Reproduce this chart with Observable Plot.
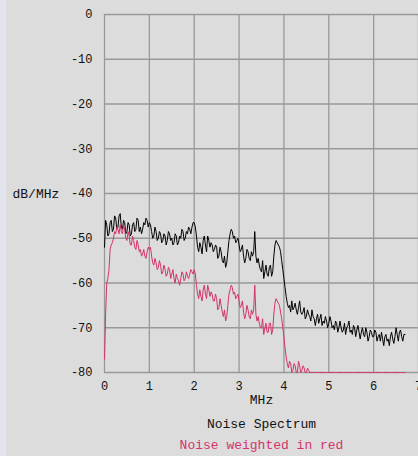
<!DOCTYPE html>
<html><head><meta charset="utf-8">
<script src="https://cdn.jsdelivr.net/npm/d3@7"></script>
<script src="https://cdn.jsdelivr.net/npm/@observablehq/plot@0.6"></script>
<style>
html,body{margin:0;padding:0;}
body{width:418px;height:456px;overflow:hidden;background:linear-gradient(to right,#e4e4ee 0,#e4e4ee 6px,#dcdcdc 6px);}
</style></head><body><div id="chart"></div>
<script>
const freqStart = 0;
const freqStep = 0.025; // MHz between samples
const xTicks = [0, 1, 2, 3, 4, 5, 6, 7];
const yTicks = [0, -10, -20, -30, -40, -50, -60, -70, -80];
const yLabel = "dB/MHz";
const xLabel = "MHz";
const title = "Noise Spectrum";
const caption = "Noise weighted in red";

// total noise (black), dB/MHz, 0.000 .. 6.700 MHz
const noiseDb = [
  -52,-46,-47,-49.5,-49,-46.5,-46,-48.5,-48,-45,-45.5,-48,-47.5,-45,-44.5,-47.5,-48,-46,-46.5,-49,
  -48.5,-46.5,-47,-49.5,-49,-47,-46.5,-48.5,-48,-45.5,-46,-48.5,-47.5,-49,-48,-46.5,-47,-45.5,-46,-47.5,
  -46.5,-47,-48.5,-50,-49.5,-47.5,-48.5,-50.5,-50,-48.5,-49,-51,-50.5,-49,-49.5,-51.5,-50.5,-48.5,-49,-50.5,
  -50,-51.5,-51,-49,-49.5,-51.5,-51,-49.5,-50,-48,-48.5,-50.5,-50,-48.5,-49,-47.5,-48,-49,-47.5,-46.5,
  -46.5,-47.5,-49.5,-52,-53,-51,-52,-53.5,-50.5,-49.5,-51.5,-53,-49.5,-50.5,-52,-51,-51.5,-53,-52.5,-51.5,
  -52,-54.5,-54,-52,-53,-55,-55.5,-54,-56.5,-55.5,-53,-50.5,-49,-48,-48.5,-50,-49.5,-51,-50.5,-50,
  -51.5,-53,-52.5,-51.5,-54,-55.5,-54.5,-52.5,-53,-54.5,-55,-53,-54,-53,-48.5,-54,-55.5,-54.5,-56,-57,
  -57.5,-55,-59,-57.5,-56,-58,-58.5,-56.5,-56,-58.5,-57.5,-54,-51.5,-50.5,-51,-51.5,-52,-53,-55,-57,
  -59,-61,-63,-64.5,-65.5,-65,-66.5,-64,-66,-65.5,-64.5,-66,-67,-65.5,-64,-66.5,-67,-66.5,-65.5,-68,
  -67.5,-66,-67,-67.5,-68.5,-66,-67.5,-68,-69.5,-68,-67,-69,-68,-67,-69.5,-68.5,-69,-67.5,-68.5,-70,
  -69,-67.5,-68.5,-70,-69.5,-70.5,-68.5,-69,-71,-70,-68.5,-70,-71,-70.5,-69,-71.5,-70,-69.5,-68.5,-71,
  -70.5,-71.5,-69.5,-70,-72,-70.5,-69.5,-71,-72.5,-71,-70,-71.5,-72,-70,-71,-73,-72,-70.5,-71,-72,
  -72,-70.5,-71,-73,-72,-71.5,-73,-71,-72.5,-74,-72,-71.5,-73,-72.5,-74,-72,-71,-72.5,-73.5,-72,
  -70,-71.5,-73,-71,-70.5,-72,-73,-71.5,-71.5
];
// weighted noise (red), dB/MHz, 0.000 .. 6.700 MHz
const weightedDb = [
  -77,-67,-60,-59,-57,-52.5,-51.5,-51,-50,-48.5,-49,-47.5,-48,-49,-47,-48.5,-49,-47,-48,-50,
  -50.5,-48.5,-49.5,-51.5,-51.5,-49.5,-50.5,-52,-52.5,-50.5,-51.5,-53,-52.5,-54,-53.5,-52.5,-54,-54.5,-53,-52,
  -52.5,-52,-54,-55.5,-56,-54.5,-55.5,-57,-56.5,-55,-56,-58,-57.5,-56,-57,-58.5,-58,-56.5,-57,-59,
  -58,-57,-59,-60,-58,-59,-59.5,-60.5,-59,-57.5,-58,-59.5,-59,-57.5,-58.5,-59,-58,-57,-57.5,-58,
  -57,-58,-60.5,-62.5,-63.5,-61.5,-63,-64,-61.5,-60.5,-62.5,-63.5,-60.5,-61.5,-63,-62,-62.5,-64,-64,-62.5,
  -63.5,-66,-65.5,-63.5,-65,-66.5,-67.5,-66,-68.5,-67.5,-65,-62.5,-61.5,-60.5,-61,-62.5,-62,-63.5,-63,-62.5,
  -64,-65.5,-65,-64,-66.5,-68,-67,-65,-66,-67.5,-68,-66,-67,-66,-60.5,-67,-68.5,-67.5,-69,-70,
  -70,-68,-71.5,-70,-69,-71,-71,-69,-69,-71.5,-70.5,-67,-64.5,-63.5,-64,-64.5,-65,-66.5,-68,-70,
  -72,-74.5,-76.5,-78,-79,-77.5,-78,-80,-79.5,-78,-78.5,-80,-80,-77.5,-78.5,-80,-79.5,-78.5,-79,-80,
  -80,-79,-79.5,-80,-80,-80,-80,-80,-80,-80,-80,-80,-80,-80,-80,-80,-80,-80,-80,-80,
  -80,-80,-80,-80,-80,-80,-80,-80,-80,-80,-80,-80,-80,-80,-80,-80,-80,-80,-80,-80,
  -80,-80,-80,-80,-80,-80,-80,-80,-80,-80,-80,-80,-80,-80,-80,-80,-80,-80,-80,-80,
  -80,-80,-80,-80,-80,-80,-80,-80,-80,-80,-80,-80,-80,-80,-80,-80,-80,-80,-80,-80,
  -80,-80,-80,-80,-80,-80,-80,-80,-80
];

const toRows = arr => arr.map((v, i) => ({f: +(freqStart + i * freqStep).toFixed(3), db: v}));
const noiseRows = toRows(noiseDb);
const weightedRows = toRows(weightedDb);

const font = "'Liberation Mono', 'DejaVu Sans Mono', monospace";
const chart = Plot.plot({
  width: 418, height: 456,
  marginTop: 14, marginBottom: 84, marginLeft: 104, marginRight: 0,
  style: {background: "transparent", fontFamily: font, fontSize: "12px", color: "#111", overflow: "visible"},
  x: {domain: [0, 7], ticks: xTicks, tickFormat: d => String(d), tickSize: 0, tickPadding: 9, label: null},
  y: {domain: [-80, 0], ticks: yTicks, tickFormat: d => String(d), tickSize: 0, tickPadding: 12, label: null},
  marks: [
    Plot.ruleX(xTicks, {stroke: "#999", strokeWidth: 1.3}),
    Plot.ruleY(yTicks, {stroke: "#999", strokeWidth: 1.3}),
    Plot.line(noiseRows, {x: "f", y: "db", stroke: "#000", strokeWidth: 1}),
    Plot.line(weightedRows, {x: "f", y: "db", stroke: "#d4336c", strokeWidth: 1}),
    Plot.text([yLabel], {y: () => -40, text: d => d, frameAnchor: "left", dx: -92, textAnchor: "start", fontSize: 13, fill: "#111"}),
    Plot.text([xLabel], {text: d => d, frameAnchor: "bottom", dy: 31, fontSize: 13, fill: "#111"}),
    Plot.text([title], {text: d => d, frameAnchor: "bottom", dy: 55, fontSize: 13, fill: "#111"}),
    Plot.text([caption], {text: d => d, frameAnchor: "bottom", dy: 76, fontSize: 13, fill: "#d4336c"})
  ]
});
document.getElementById("chart").appendChild(chart);
</script></body></html>
